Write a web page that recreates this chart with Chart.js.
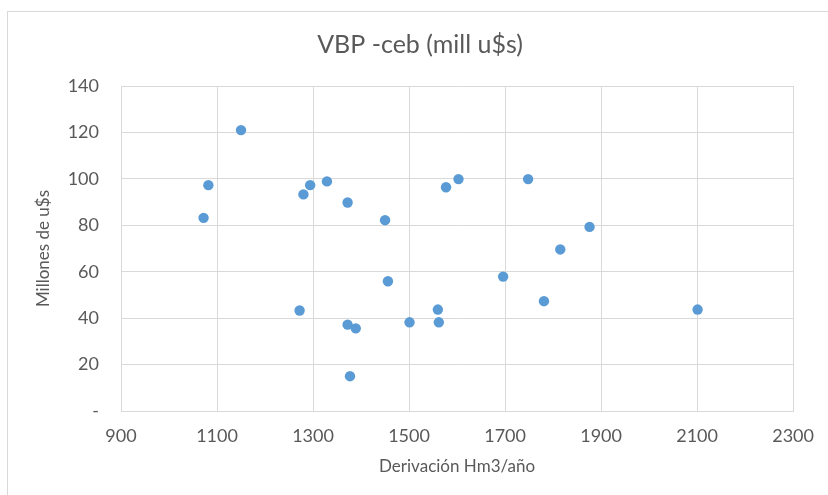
<!DOCTYPE html>
<html>
<head>
<meta charset="utf-8">
<script src="https://cdn.jsdelivr.net/npm/chart.js@4/dist/chart.umd.min.js"></script>
<style>
  html, body { margin: 0; padding: 0; background: #ffffff; }
  #wrap { width: 828px; height: 495px; position: relative; }
</style>
</head>
<body>
<div id="wrap"><canvas id="c" width="828" height="495"></canvas></div>
<script>
// Derivación (Hm3/año) and VBP (millones de u$s) for each observation
const derivacion = [1150, 1082, 1072, 1280, 1294, 1329, 1372, 1450, 1577, 1603, 1748, 1876,
                    1815, 1456, 1272, 1372, 1389, 1377, 1501, 1560, 1562, 1696, 1781, 2101];
const vbp        = [121.0, 97.3, 83.2, 93.3, 97.3, 98.9, 89.8, 82.2, 96.4, 99.9, 99.9, 79.3,
                    69.6, 55.9, 43.3, 37.2, 35.6, 15.0, 38.2, 43.7, 38.2, 57.9, 47.3, 43.7];

const chartTitle = 'VBP -ceb (mill u$s)';
const xTitle = 'Derivación Hm3/año';
const yTitle = 'Millones de u$s';
const xTicks = [900, 1100, 1300, 1500, 1700, 1900, 2100, 2300];
const yTicks = [0, 20, 40, 60, 80, 100, 120, 140];

const points = derivacion.map((x, i) => ({ x: x, y: vbp[i] }));

const FONT = 'Lato, "Open Sans", sans-serif';
const TEXT = '#595959';
const GRID = '#d9d9d9';

// white page with a thin frame around the chart
const frame = {
  id: 'frame',
  beforeDraw(chart) {
    const ctx = chart.ctx;
    ctx.save();
    ctx.fillStyle = '#ffffff';
    ctx.fillRect(0, 0, chart.width, chart.height);
    ctx.strokeStyle = GRID;
    ctx.lineWidth = 1;
    ctx.strokeRect(7.5, 11.5, chart.width + 20, chart.height + 20);
    ctx.restore();
  }
};

new Chart(document.getElementById('c'), {
  type: 'scatter',
  data: {
    datasets: [{
      label: yTitle,
      data: points,
      backgroundColor: '#5b9bd5',
      borderColor: '#5b9bd5',
      borderWidth: 0,
      pointRadius: 5.2,
      pointHoverRadius: 5.2
    }]
  },
  options: {
    responsive: false,
    animation: false,
    devicePixelRatio: 1,
    layout: { padding: { top: 30, left: 46, right: 34, bottom: 0 } },
    plugins: {
      legend: { display: false },
      tooltip: { enabled: false },
      title: {
        display: true,
        text: chartTitle,
        color: TEXT,
        font: { family: FONT, size: 25, weight: 'normal' },
        padding: { top: 0, bottom: 26 }
      }
    },
    scales: {
      x: {
        type: 'linear',
        min: xTicks[0],
        max: xTicks[xTicks.length - 1],
        afterBuildTicks(scale) { scale.ticks = xTicks.map(v => ({ value: v })); },
        afterFit(scale) { scale.height = 84; },
        grid: { color: GRID, lineWidth: 1, drawTicks: false },
        border: { color: GRID, width: 1 },
        ticks: {
          color: TEXT,
          padding: 14,
          font: { family: FONT, size: 18 },
          callback: v => String(v)
        },
        title: {
          display: true,
          text: xTitle,
          color: TEXT,
          font: { family: FONT, size: 17 },
          padding: { top: 0, bottom: 18 }
        }
      },
      y: {
        type: 'linear',
        min: yTicks[0],
        max: yTicks[yTicks.length - 1],
        afterBuildTicks(scale) { scale.ticks = yTicks.map(v => ({ value: v })); },
        afterFit(scale) { scale.width = 75; },
        grid: { color: GRID, lineWidth: 1, drawTicks: false },
        border: { color: GRID, width: 1 },
        ticks: {
          color: TEXT,
          padding: 22,
          font: { family: FONT, size: 18 },
          callback: v => (v === 0 ? '-' : String(v))
        },
        title: {
          display: true,
          text: yTitle,
          color: TEXT,
          font: { family: FONT, size: 17 },
          padding: { top: -13, bottom: 0 }
        }
      }
    }
  },
  plugins: [frame]
});
</script>
</body>
</html>
